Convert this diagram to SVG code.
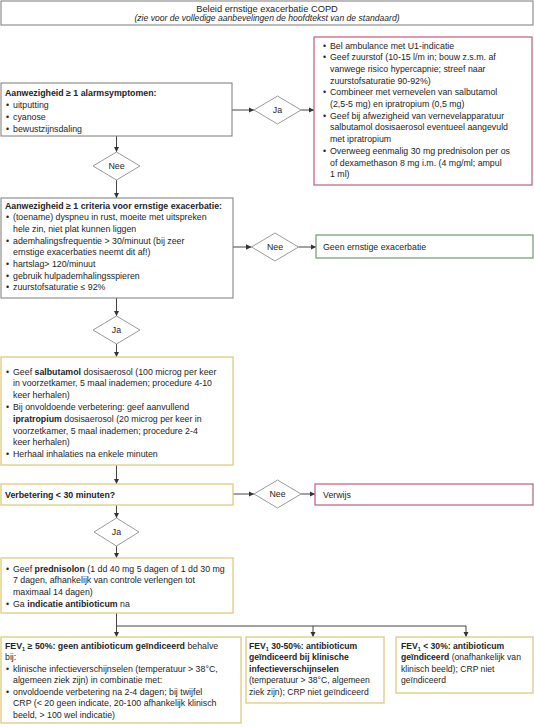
<svg xmlns="http://www.w3.org/2000/svg" width="534" height="727" viewBox="0 0 534 727">
<defs>
<marker id="ah" viewBox="0 0 10 10" refX="10" refY="5" markerWidth="5.5" markerHeight="5.5" orient="auto" markerUnits="userSpaceOnUse">
<path d="M0,0 L10,5 L0,10 z" fill="#333"/>
</marker>
<style>
text{font-family:"Liberation Sans",Arial,sans-serif;font-size:8.8px;fill:#242424}
.b{font-weight:bold}
.gray{fill:#fff;stroke:#7a7a7a;stroke-width:1}
.red{fill:#fff;stroke:#c45a7c;stroke-width:1.2}
.grn{fill:#fff;stroke:#6e9a72;stroke-width:1.2}
.yel{fill:#fff;stroke:#e2cf86;stroke-width:1.4}
.dia{fill:#fff;stroke:#9a9a9a;stroke-width:1}
.con{fill:none;stroke:#444;stroke-width:1}
.arr{fill:none;stroke:#444;stroke-width:1;marker-end:url(#ah)}
.c{text-anchor:middle}
.sub{font-size:5.5px}
.sm text{font-size:8.6px}
</style>
</defs>
<rect width="534" height="727" fill="#fff"/>

<g id="title">
<rect class="gray" x="1" y="1" width="532" height="24" stroke="#8a8a8a"/>
<text class="c" x="267" y="11.5" style="font-size:9.3px">Beleid ernstige exacerbatie COPD</text>
<text class="c" x="267" y="21" style="font-style:italic;font-size:8.6px">(zie voor de volledige aanbevelingen de hoofdtekst van de standaard)</text>
</g>

<g id="connectors">
<line class="arr" x1="232" y1="110" x2="254" y2="110"/>
<line class="arr" x1="301" y1="110" x2="314" y2="110"/>
<line class="arr" x1="116.5" y1="136" x2="116.5" y2="152"/>
<line class="arr" x1="116.5" y1="180" x2="116.5" y2="198"/>
<line class="arr" x1="233" y1="247" x2="251.5" y2="247"/>
<line class="arr" x1="298.5" y1="247" x2="316" y2="247"/>
<line class="arr" x1="116.5" y1="298" x2="116.5" y2="316"/>
<line class="arr" x1="116.5" y1="344" x2="116.5" y2="357"/>
<line class="arr" x1="116.5" y1="465" x2="116.5" y2="484"/>
<line class="arr" x1="233" y1="494" x2="254" y2="494"/>
<line class="arr" x1="301" y1="494" x2="315" y2="494"/>
<line class="arr" x1="116.5" y1="505" x2="116.5" y2="518"/>
<line class="arr" x1="116.5" y1="546" x2="116.5" y2="558"/>
<path class="con" d="M116.5,613 V626 H466"/>
<line class="arr" x1="116.5" y1="626" x2="116.5" y2="637"/>
<line class="arr" x1="313" y1="626" x2="313" y2="637"/>
<line class="arr" x1="466" y1="626" x2="466" y2="637"/>
</g>

<g id="alarm">
<rect class="gray" x="1" y="83" width="231" height="53"/>
<text x="5" y="96" class="b">Aanwezigheid ≥ 1 alarmsymptomen:</text>
<text x="6" y="108">•</text><text x="13" y="108">uitputting</text>
<text x="6" y="120">•</text><text x="13" y="120">cyanose</text>
<text x="6" y="132">•</text><text x="13" y="132">bewustzijnsdaling</text>
</g>

<g id="ja1">
<polygon class="dia" points="254,110 277.5,96 301,110 277.5,124"/>
<text class="c" x="277.5" y="113">Ja</text>
</g>

<g id="ambulance">
<rect class="red" x="314" y="37" width="218" height="148"/>
<text x="323" y="48.5">•</text><text x="330" y="48.5">Bel ambulance met U1-indicatie</text>
<text x="323" y="60.2">•</text><text x="330" y="60.2">Geef zuurstof (10-15 l/m in; bouw z.s.m. af</text>
<text x="330" y="71.9">vanwege risico hypercapnie; streef naar</text>
<text x="330" y="83.6">zuurstofsaturatie 90-92%)</text>
<text x="323" y="95.3">•</text><text x="330" y="95.3">Combineer met vernevelen van salbutamol</text>
<text x="330" y="107">(2,5-5 mg) en ipratropium (0,5 mg)</text>
<text x="323" y="118.7">•</text><text x="330" y="118.7">Geef bij afwezigheid van vernevelapparatuur</text>
<text x="330" y="130.4">salbutamol dosisaerosol eventueel aangevuld</text>
<text x="330" y="142.1">met ipratropium</text>
<text x="323" y="153.8">•</text><text x="330" y="153.8">Overweeg eenmalig 30 mg prednisolon per os</text>
<text x="330" y="165.5">of dexamethason 8 mg i.m. (4 mg/ml; ampul</text>
<text x="330" y="177.2">1 ml)</text>
</g>

<g id="nee1">
<polygon class="dia" points="93,166 116.5,152 140,166 116.5,180"/>
<text class="c" x="116.5" y="169">Nee</text>
</g>

<g id="criteria">
<rect class="gray" x="1" y="198" width="232" height="100"/>
<text x="5" y="208.5" class="b">Aanwezigheid ≥ 1 criteria voor ernstige exacerbatie:</text>
<text x="6" y="220.2">•</text><text x="13" y="220.2">(toename) dyspneu in rust, moeite met uitspreken</text>
<text x="13" y="231.9">hele zin, niet plat kunnen liggen</text>
<text x="6" y="243.6">•</text><text x="13" y="243.6">ademhalingsfrequentie &gt; 30/minuut (bij zeer</text>
<text x="13" y="255.3">ernstige exacerbaties neemt dit af!)</text>
<text x="6" y="267">•</text><text x="13" y="267">hartslag&gt; 120/minuut</text>
<text x="6" y="278.7">•</text><text x="13" y="278.7">gebruik hulpademhalingsspieren</text>
<text x="6" y="290.4">•</text><text x="13" y="290.4">zuurstofsaturatie ≤ 92%</text>
</g>

<g id="nee2">
<polygon class="dia" points="251.5,247 275,233 298.5,247 275,261"/>
<text class="c" x="275" y="250">Nee</text>
</g>

<g id="geen">
<rect class="grn" x="316" y="235" width="217" height="23"/>
<text x="323" y="250">Geen ernstige exacerbatie</text>
</g>

<g id="ja2">
<polygon class="dia" points="93,330 116.5,316 140,330 116.5,344"/>
<text class="c" x="116.5" y="333">Ja</text>
</g>

<g id="salbutamol">
<rect class="yel" x="1" y="357" width="232" height="108"/>
<text x="6" y="374.5">•</text><text x="13" y="374.5">Geef <tspan class="b">salbutamol</tspan> dosisaerosol (100 microg per keer</text>
<text x="13" y="386.3">in voorzetkamer, 5 maal inademen; procedure 4-10</text>
<text x="13" y="398.1">keer herhalen)</text>
<text x="6" y="409.9">•</text><text x="13" y="409.9">Bij onvoldoende verbetering: geef aanvullend</text>
<text x="13" y="421.7"><tspan class="b">ipratropium</tspan> dosisaerosol (20 microg per keer in</text>
<text x="13" y="433.5">voorzetkamer, 5 maal inademen; procedure 2-4</text>
<text x="13" y="445.3">keer herhalen)</text>
<text x="6" y="457.1">•</text><text x="13" y="457.1">Herhaal inhalaties na enkele minuten</text>
</g>

<g id="verbetering">
<rect class="yel" x="1" y="484" width="232" height="21"/>
<text x="5" y="497.5" class="b">Verbetering &lt; 30 minuten?</text>
</g>

<g id="nee3">
<polygon class="dia" points="254,494 277.5,480 301,494 277.5,508"/>
<text class="c" x="277.5" y="497">Nee</text>
</g>

<g id="verwijs">
<rect class="red" x="315" y="484" width="218" height="21"/>
<text x="323" y="497.5">Verwijs</text>
</g>

<g id="ja3">
<polygon class="dia" points="94,532 116.5,518 139,532 116.5,546"/>
<text class="c" x="116.5" y="535">Ja</text>
</g>

<g id="prednisolon">
<rect class="yel" x="1" y="558" width="232" height="55"/>
<text x="6" y="571.5">•</text><text x="13" y="571.5">Geef <tspan class="b">prednisolon</tspan> (1 dd 40 mg 5 dagen of 1 dd 30 mg</text>
<text x="13" y="583.2">7 dagen, afhankelijk van controle verlengen tot</text>
<text x="13" y="594.9">maximaal 14 dagen)</text>
<text x="6" y="606.6">•</text><text x="13" y="606.6">Ga <tspan class="b">indicatie antibioticum</tspan> na</text>
</g>

<g id="fev50">
<rect class="yel" x="1" y="637" width="240" height="86"/>
<text x="5" y="648.5"><tspan class="b">FEV</tspan><tspan class="b sub" dy="2">1</tspan><tspan class="b" dy="-2"> ≥ 50%: geen antibioticum geïndiceerd</tspan> behalve</text>
<text x="5" y="660">bij:</text>
<text x="6" y="671.5">•</text><text x="13" y="671.5">klinische infectieverschijnselen (temperatuur &gt; 38°C,</text>
<text x="13" y="683">algemeen ziek zijn) in combinatie met:</text>
<text x="6" y="694.5">•</text><text x="13" y="694.5">onvoldoende verbetering na 2-4 dagen; bij twijfel</text>
<text x="13" y="706">CRP (&lt; 20 geen indicate, 20-100 afhankelijk klinisch</text>
<text x="13" y="717.5">beeld, &gt; 100 wel indicatie)</text>
</g>

<g id="fev3050" class="sm">
<rect class="yel" x="246" y="637" width="138" height="66"/>
<text x="249" y="648.5" class="b">FEV<tspan class="sub" dy="2">1</tspan><tspan dy="-2"> 30-50%: antibioticum</tspan></text>
<text x="249" y="660" class="b">geïndiceerd bij klinische</text>
<text x="249" y="671.5" class="b">infectieverschijnselen</text>
<text x="249" y="683">(temperatuur &gt; 38°C, algemeen</text>
<text x="249" y="694.5">ziek zijn); CRP niet geïndiceerd</text>
</g>

<g id="fev30" class="sm">
<rect class="yel" x="396" y="637" width="137" height="56"/>
<text x="401" y="648.5" class="b">FEV<tspan class="sub" dy="2">1</tspan><tspan dy="-2"> &lt; 30%: antibioticum</tspan></text>
<text x="401" y="660"><tspan class="b">geïndiceerd</tspan> (onafhankelijk van</text>
<text x="401" y="671.5">klinisch beeld); CRP niet</text>
<text x="401" y="683">geïndiceerd</text>
</g>
</svg>
